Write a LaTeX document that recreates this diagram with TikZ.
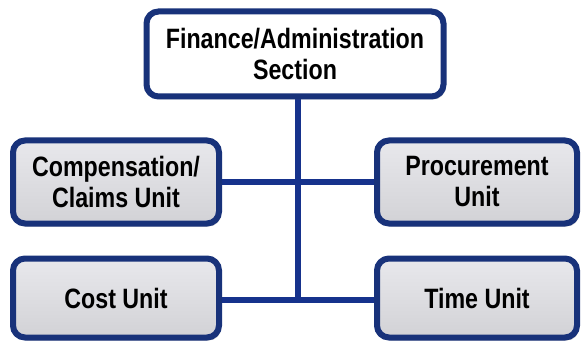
\documentclass[tikz,border=0pt]{standalone}
\usepackage{fontspec}
\setmainfont{Liberation Sans}[FakeStretch=0.83]
\usetikzlibrary{positioning,shadows,backgrounds}
\definecolor{Navy}{RGB}{24,50,122}
\definecolor{LineBlue}{RGB}{22,50,140}
\definecolor{Grey}{RGB}{210,210,214}
\definecolor{GreyTop}{RGB}{232,232,236}

\begin{document}
\begin{tikzpicture}[x=1pt,y=-1pt,
 box/.style={rounded corners=12pt,draw=Navy,line width=6pt,align=center,
   font=\fontsize{28}{31}\selectfont\bfseries,text=black,
   drop shadow={shadow xshift=2pt,shadow yshift=-3pt,opacity=.35}},
 unit/.style={box,top color=GreyTop,bottom color=Grey},
 head/.style={box,fill=white},
 link/.style={LineBlue,line width=6pt}]
\useasboundingbox (0,0) rectangle (582,345);
\node[head,minimum width=297pt,minimum height=85pt] (fin) at (295,54) {Finance/Administration\\Section};
\node[unit,minimum width=206pt,minimum height=83pt] (comp) at (116,182) {Compensation/\\Claims Unit};
\node[unit,minimum width=200pt,minimum height=83pt] (proc) at (477,182) {Procurement\\Unit};
\node[unit,minimum width=206pt,minimum height=79pt] (cost) at (116,298) {Cost Unit};
\node[unit,minimum width=200pt,minimum height=79pt] (time) at (477,298) {Time Unit};
\begin{scope}[on background layer]
\coordinate (j) at (298,300);
\draw[link] (fin.south -| j) -- (j);
\draw[link] (comp) -- (proc);
\draw[link] (cost.east |- j) -- (time.west |- j);
\end{scope}
\end{tikzpicture}
\end{document}
